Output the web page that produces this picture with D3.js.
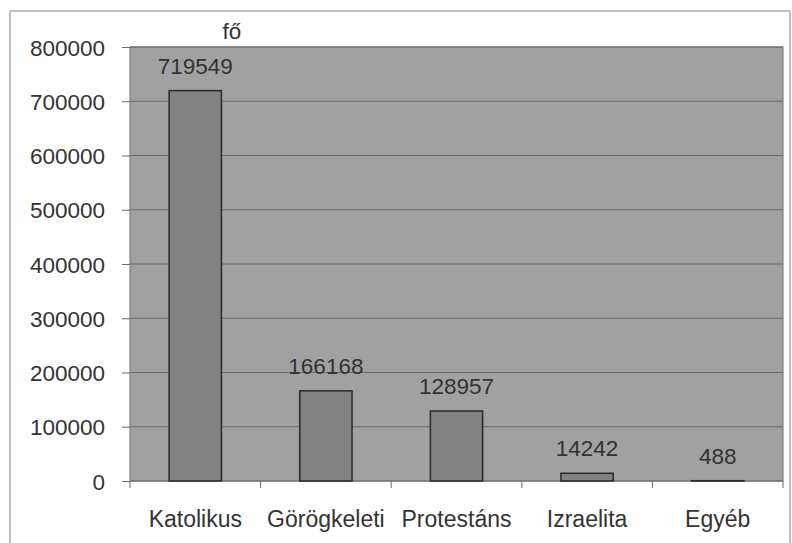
<!DOCTYPE html>
<html>
<head>
<meta charset="utf-8">
<script src="https://cdn.jsdelivr.net/npm/d3@7"></script>
<style>
    body { margin: 0; background: #fff; }
    text { font-family: "Liberation Sans", Arial, sans-serif; fill: #333; }
</style>
</head>
<body>
<svg id="chart" width="792" height="543"></svg>
<script>
const categories = ["Katolikus", "Görögkeleti", "Protestáns", "Izraelita", "Egyéb"];
const values = [719549, 166168, 128957, 14242, 488];
const yTicks = [0, 100000, 200000, 300000, 400000, 500000, 600000, 700000, 800000];
const unitLabel = "fő";

const svg = d3.select("#chart");
const margin = { top: 47, right: 9, bottom: 62, left: 130 };
const width = 792 - margin.left - margin.right;
const height = 543 - margin.top - margin.bottom;

// outer frame
svg.append("rect")
    .attr("x", 10).attr("y", 11)
    .attr("width", 780).attr("height", 545)
    .attr("fill", "none")
    .attr("stroke", "#9a9a9a")
    .attr("stroke-width", 1.2);

const g = svg.append("g").attr("transform", "translate(" + margin.left + "," + margin.top + ")");

const x = d3.scaleBand().domain(categories).range([0, width]).paddingInner(0.6).paddingOuter(0.3);
const y = d3.scaleLinear().domain([0, 800000]).range([height, 0]);

// plot background
g.append("rect")
    .attr("width", width).attr("height", height)
    .attr("fill", "#a1a1a1")
    .attr("stroke", "#6e6e6e")
    .attr("stroke-width", 1);

// gridlines
g.selectAll(".grid").data(yTicks.slice(1)).enter().append("line")
    .attr("x1", 0).attr("x2", width)
    .attr("y1", d => y(d)).attr("y2", d => y(d))
    .attr("stroke", "#6a6a6a").attr("stroke-width", 1);

// y axis
const yAxis = g.append("g")
    .call(d3.axisLeft(y).tickValues(yTicks).tickFormat(d3.format("d")).tickSize(8).tickPadding(17));
yAxis.select(".domain").remove();
yAxis.selectAll("line").attr("stroke", "#6a6a6a");
yAxis.selectAll("text").attr("font-size", 22.5).attr("fill", "#333").attr("dy", "0.36em")
    .attr("font-family", "'Liberation Sans', Arial, sans-serif");

// x axis: ticks on category boundaries
const bandStep = width / categories.length;
g.append("line")
    .attr("x1", 0).attr("x2", width)
    .attr("y1", height).attr("y2", height)
    .attr("stroke", "#6a6a6a");
g.selectAll(".xtick").data(d3.range(categories.length + 1)).enter().append("line")
    .attr("x1", d => d * bandStep).attr("x2", d => d * bandStep)
    .attr("y1", height).attr("y2", height + 7)
    .attr("stroke", "#6a6a6a");
g.selectAll(".xlabel").data(categories).enter().append("text")
    .attr("x", d => x(d) + x.bandwidth() / 2)
    .attr("y", height + 46)
    .attr("text-anchor", "middle")
    .attr("font-size", 23)
    .text(d => d);

// bars
g.selectAll(".bar").data(values).enter().append("rect")
    .attr("x", (d, i) => x(categories[i]))
    .attr("y", d => y(d))
    .attr("width", x.bandwidth())
    .attr("height", d => height - y(d))
    .attr("fill", "#828282")
    .attr("stroke", "#2e2e2e")
    .attr("stroke-width", 1.6);

// value labels
g.selectAll(".val").data(values).enter().append("text")
    .attr("x", (d, i) => x(categories[i]) + x.bandwidth() / 2)
    .attr("y", d => y(d) - 17)
    .attr("text-anchor", "middle")
    .attr("font-size", 22.5)
    .text(d => d);

// unit label
svg.append("text")
    .attr("x", 232).attr("y", 39)
    .attr("text-anchor", "middle")
    .attr("font-size", 22.5)
    .text(unitLabel);
</script>
</body>
</html>
